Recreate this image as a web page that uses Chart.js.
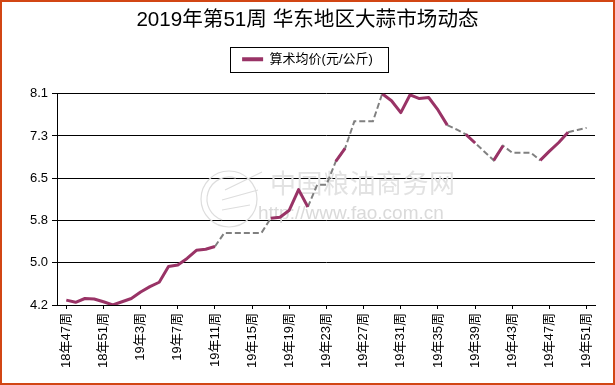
<!DOCTYPE html>
<html>
<head>
<meta charset="utf-8">
<title>华东地区大蒜市场动态</title>
<script src="https://cdn.jsdelivr.net/npm/chart.js@4/dist/chart.umd.min.js"></script>
<style>
  html, body { margin: 0; padding: 0; background: #fff; }
  canvas { display: block; }
</style>
</head>
<body>
<canvas id="garlic_chart" width="615" height="385"></canvas>
<script>
// 周次标签 (每4周一个刻度)
const tickWeeks = ['18年47周', '18年51周', '19年3周', '19年7周', '19年11周', '19年15周', '19年19周',
    '19年23周', '19年27周', '19年31周', '19年35周', '19年39周', '19年43周', '19年47周', '19年51周'];
const yTicks = [4.2, 4.98, 5.76, 6.54, 7.32, 8.1];

// 算术均价, 18年47周 ~ 19年51周 (null = 缺数据)
const price = [
    4.29, 4.25, 4.32, 4.31, 4.26, 4.20, 4.26, 4.32, 4.44, 4.54,
    4.62, 4.91, 4.94, 5.06, 5.21, 5.23, 5.28, null, null, null,
    null, null, 5.80, 5.82, 5.95, 6.33, 6.01, null, null, 6.85,
    7.09, null, null, null, 8.10, 7.97, 7.75, 8.08, 8.01, 8.03,
    7.80, 7.52, null, 7.35, 7.19, null, 6.87, 7.14, null, null,
    null, 6.87, 7.04, 7.20, 7.39, null, null
];
// 缺数据周的补点 (灰色虚线)
const fill = [
    null, null, null, null, null, null, null, null, null, null,
    null, null, null, null, null, null, null, 5.53, 5.53, 5.53,
    5.53, 5.53, null, null, null, null, null, 6.42, 6.42, null,
    null, 7.59, 7.59, 7.59, null, null, null, null, null, null,
    null, null, 7.44, null, null, 7.03, null, null, 7.01, 7.01,
    7.01, null, null, null, null, 7.43, 7.47
];

const purple = '#993366';
const fontFamily = '"Liberation Sans", Arial, "Noto Sans CJK SC", sans-serif';

let solidData = price.map((v, i) => ({x: i, y: v}));
let dashData = price.map((v, i) => {
    if (fill[i] != null) return {x: i, y: fill[i]};
    let nearGap = (i > 0 && fill[i - 1] != null) || (i < fill.length - 1 && fill[i + 1] != null);
    return {x: i, y: nearGap ? v : null};
});

// 水印, 图例边框, 外框
const decoPlugin = {
    id: 'deco',
    beforeLayout(chart) {
        let lg = chart.legend;
        if (lg && !lg._extraFit) {
            let baseFit = Object.getPrototypeOf(lg).fit;
            lg.fit = function () {
                baseFit.call(this);
                this.height += 18;   // 图例下方留白
            };
            lg._extraFit = true;
        }
    },
    beforeDatasetsDraw(chart) {
        let ctx = chart.ctx;
        ctx.save();
        ctx.strokeStyle = '#dddddd';
        ctx.lineWidth = 1.2;
        ctx.beginPath();
        ctx.arc(229, 199, 28, 0, Math.PI * 2);
        ctx.stroke();
        ctx.beginPath();
        ctx.arc(229, 199, 22, Math.PI * 0.6, Math.PI * 1.6);
        ctx.stroke();
        ctx.beginPath();
        ctx.moveTo(225, 190); ctx.lineTo(262, 172);
        ctx.moveTo(222, 200); ctx.lineTo(258, 190);
        ctx.moveTo(222, 210); ctx.lineTo(250, 205);
        ctx.stroke();
        ctx.fillStyle = '#e2e2e2';
        ctx.font = '26px "Noto Sans CJK SC", sans-serif';
        ctx.textBaseline = 'middle';
        let chars = '中国粮油商务网';
        for (let k = 0; k < chars.length; k++) {
            ctx.fillText(chars[k], 270 + k * 26.5, 183);
        }
        ctx.fillStyle = '#dadada';
        ctx.font = '19px ' + fontFamily;
        ctx.fillText('http://www.fao.com.cn', 258, 214);
        ctx.restore();
    },
    afterDraw(chart) {
        let ctx = chart.ctx;
        ctx.save();
        let hb = chart.legend && chart.legend.legendHitBoxes[0];
        if (hb) {
            let cy = hb.top + hb.height / 2;
            ctx.strokeStyle = '#000';
            ctx.lineWidth = 1;
            ctx.strokeRect(Math.round(hb.left - 12) + 0.5, Math.round(cy - 12.5) + 0.5,
                Math.round(hb.width + 27), 25);
        }
        ctx.strokeStyle = '#d24614';
        ctx.lineWidth = 2;
        ctx.strokeRect(1, 1, 613, 383);
        ctx.restore();
    }
};

let ctx = document.getElementById('garlic_chart');
let garlicChart = new Chart(ctx, {
    type: 'line',
    data: {
        datasets: [{
            label: '算术均价(元/公斤)',
            data: solidData,
            borderColor: purple,
            backgroundColor: purple,
            borderWidth: 3,
            borderJoinStyle: 'round',
            pointRadius: 0,
            spanGaps: false,
            tension: 0,
            order: 0
        }, {
            label: 'fill',
            data: dashData,
            borderColor: '#808080',
            backgroundColor: '#808080',
            borderWidth: 2,
            borderDash: [6, 3],
            pointRadius: 0,
            spanGaps: false,
            tension: 0,
            order: 1
        }]
    },
    options: {
        responsive: false,
        animation: false,
        devicePixelRatio: 1,
        layout: {padding: 0},
        plugins: {
            tooltip: {enabled: false},
            title: {
                display: true,
                text: '2019年第51周 华东地区大蒜市场动态',
                color: '#000',
                font: {family: fontFamily, size: 20.6, weight: 'normal'},
                padding: {top: 8, bottom: 10}
            },
            legend: {
                display: true,
                position: 'top',
                labels: {
                    color: '#000',
                    font: {family: fontFamily, size: 13},
                    boxWidth: 21,
                    boxHeight: 4,
                    padding: 10,
                    generateLabels: (chart) => {
                        let items = Chart.defaults.plugins.legend.labels.generateLabels(chart);
                        return items.filter((it) => it.datasetIndex === 0).map((it) => {
                            it.lineWidth = 0;
                            return it;
                        });
                    }
                }
            }
        },
        scales: {
            x: {
                type: 'linear',
                min: -1,
                max: 56.9,
                afterFit: (scale) => { scale.height = 80; },
                afterBuildTicks: (scale) => {
                    scale.ticks = tickWeeks.map((w, k) => ({value: k * 4}));
                },
                ticks: {
                    autoSkip: false,
                    minRotation: 90,
                    maxRotation: 90,
                    padding: 4,
                    color: '#000',
                    font: {family: fontFamily, size: 13},
                    callback: (value) => tickWeeks[Math.round(value / 4)]
                },
                grid: {
                    drawOnChartArea: false,
                    drawTicks: true,
                    tickLength: 4,
                    color: '#000'
                },
                border: {display: true, color: '#000', width: 1}
            },
            y: {
                min: 4.2,
                max: 8.1,
                afterFit: (scale) => { scale.width = 57; },
                afterBuildTicks: (scale) => {
                    scale.ticks = yTicks.map((v) => ({value: v}));
                },
                ticks: {
                    padding: 4,
                    color: '#000',
                    font: {family: fontFamily, size: 13},
                    callback: (value) => Number(value).toFixed(1)
                },
                grid: {
                    color: '#000',
                    lineWidth: 1,
                    drawTicks: true,
                    tickLength: 5
                },
                border: {display: true, color: '#000', width: 1}
            },
            // 右侧留白 (不显示)
            yRight: {
                position: 'right',
                min: 4.2,
                max: 8.1,
                afterFit: (scale) => { scale.width = 20; },
                ticks: {display: false},
                grid: {display: false},
                border: {display: false}
            }
        }
    },
    plugins: [decoPlugin]
});
</script>
</body>
</html>
